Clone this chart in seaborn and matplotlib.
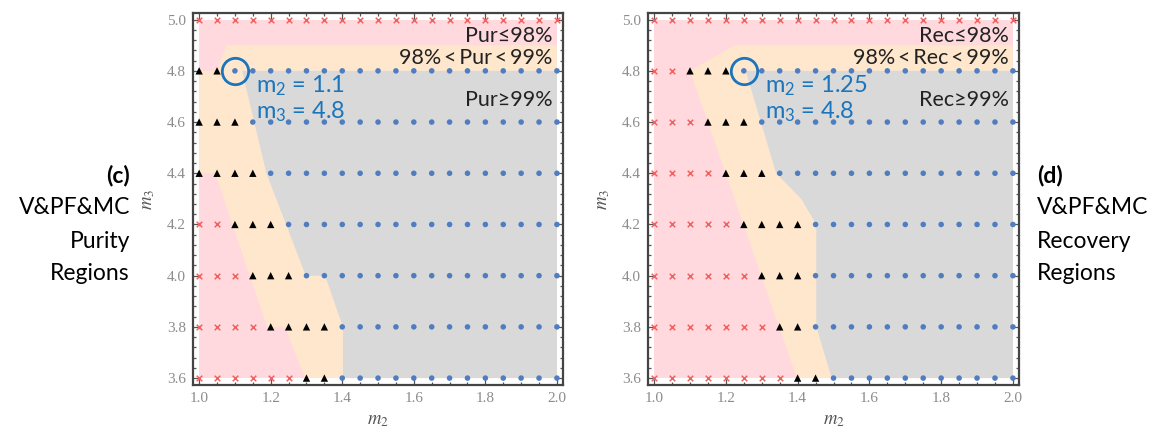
import numpy as np
import pandas as pd
import matplotlib
matplotlib.use("Agg")
import matplotlib.pyplot as plt
import seaborn as sns
from matplotlib.ticker import MultipleLocator, FormatStrFormatter

# ---- grid of operating points -------------------------------------------
M2 = [1.0, 1.05, 1.1, 1.15, 1.2, 1.25, 1.3, 1.35, 1.4, 1.45, 1.5,
      1.55, 1.6, 1.65, 1.7, 1.75, 1.8, 1.85, 1.9, 1.95, 2.0]
M3 = [5.0, 4.8, 4.6, 4.4, 4.2, 4.0, 3.8, 3.6]

# per m3 row: number of points (from m2 = 1.0) below 98 %, then between 98 and 99 %
PUR_N_LOW = [21, 0, 0, 0, 2, 3, 4, 6]
PUR_N_MID = [0, 2, 3, 4, 3, 3, 4, 2]
REC_N_LOW = [21, 2, 3, 4, 5, 6, 7, 8]
REC_N_MID = [0, 3, 3, 3, 4, 3, 2, 2]

# selected operating points
PUR_BEST = (1.1, 4.8)
REC_BEST = (1.25, 4.8)

# shaded region outlines (m2, m3)
PUR_MID_REGION = [(1.0, 4.8), (1.05, 4.8), (1.077, 4.9), (2.0, 4.9), (2.0, 3.6),
                  (1.296, 3.6), (1.24, 3.8), (1.19, 3.8), (1.045, 4.4), (1.0, 4.4)]
PUR_HIGH_REGION = [(1.12, 4.8), (2.0, 4.8), (2.0, 3.6), (1.402, 3.6), (1.402, 3.8),
                   (1.352, 4.0), (1.298, 4.0), (1.188, 4.4)]
REC_MID_REGION = [(1.10, 4.8), (1.225, 4.9), (2.0, 4.9), (2.0, 3.6), (1.398, 3.6)]
REC_HIGH_REGION = [(1.255, 4.8), (2.0, 4.8), (2.0, 3.6), (1.495, 3.6), (1.452, 3.8),
                   (1.452, 4.2), (1.41, 4.3), (1.34, 4.4)]

PINK = "#FFD9DD"
PEACH = "#FFE7CD"
GREY = "#D9D9D9"
RED = "#F06262"
DOT_BLUE = "#4F7DBF"
NOTE_BLUE = "#1B75BC"
THIN = "\u2009"

sns.set_style("white")
plt.rcParams["font.family"] = ["Lato", "DejaVu Sans"]
plt.rcParams["mathtext.fontset"] = "stix"
plt.rcParams["mathtext.default"] = "regular"


def grid_frame(n_low, n_mid):
    rows = []
    for m3, nl, nm in zip(M3, n_low, n_mid):
        for i, m2 in enumerate(M2):
            cls = "low" if i < nl else ("mid" if i < nl + nm else "high")
            rows.append((m2, m3, cls))
    return pd.DataFrame(rows, columns=["m2", "m3", "cls"])


def draw_panel(ax, df, mid_region, high_region, best, name):
    x0, x1 = min(M2), max(M2)
    y0, y1 = min(M3), max(M3)
    ax.fill_between([x0, x1], y0, y1, color=PINK, lw=0, zorder=0)
    ax.fill(*zip(*mid_region), color=PEACH, lw=0, zorder=1)
    ax.fill(*zip(*high_region), color=GREY, lw=0, zorder=1)

    sns.scatterplot(data=df[df.cls == "low"], x="m2", y="m3", marker="x",
                    color=RED, s=16, linewidth=1.1, ax=ax, legend=False, zorder=3)
    sns.scatterplot(data=df[df.cls == "mid"], x="m2", y="m3", marker="^",
                    color="black", s=28, edgecolor="none", ax=ax, legend=False, zorder=3)
    sns.scatterplot(data=df[df.cls == "high"], x="m2", y="m3", marker="o",
                    color=DOT_BLUE, s=16, edgecolor="none", ax=ax, legend=False, zorder=3)

    ax.plot(best[0], best[1], marker="o", ms=19, mfc="none", mec=NOTE_BLUE,
            mew=2.0, zorder=4)
    ax.text(best[0] + 0.058, best[1] - 0.058, f"m$_2$ = {best[0]:g}",
            color=NOTE_BLUE, fontsize=17, va="center", ha="left", zorder=5)
    ax.text(best[0] + 0.058, best[1] - 0.158, f"m$_3$ = {best[1]:g}",
            color=NOTE_BLUE, fontsize=17, va="center", ha="left", zorder=5)

    ax.text(1.988, 4.936, f"{name}≤98%", fontsize=15.5, ha="right", va="center",
            color="#222222", zorder=5)
    ax.text(1.988, 4.850, f"98%{THIN}<{THIN}{name}{THIN}<{THIN}99%", fontsize=15.5,
            ha="right", va="center", color="#222222", zorder=5)
    ax.text(1.988, 4.688, f"{name}≥99%", fontsize=15.5, ha="right", va="center",
            color="#222222", zorder=5)

    ax.set_xlim(0.983, 2.017)
    ax.set_ylim(3.573, 5.026)
    ax.xaxis.set_major_locator(MultipleLocator(0.2))
    ax.xaxis.set_minor_locator(MultipleLocator(0.05))
    ax.yaxis.set_major_locator(MultipleLocator(0.2))
    ax.yaxis.set_minor_locator(MultipleLocator(0.04))
    ax.xaxis.set_major_formatter(FormatStrFormatter("%.1f"))
    ax.yaxis.set_major_formatter(FormatStrFormatter("%.1f"))
    ax.tick_params(which="both", direction="in", top=True, right=True,
                   bottom=True, left=True, color="#555555", width=0.9)
    ax.tick_params(which="major", length=5, labelsize=11, labelcolor="#8C8C8C", pad=5)
    ax.tick_params(which="minor", length=2.5)
    for lab in ax.get_xticklabels() + ax.get_yticklabels():
        lab.set_fontfamily("Liberation Serif")
    for sp in ax.spines.values():
        sp.set_color("#444444")
        sp.set_linewidth(1.6)
    ax.set_xlabel(r"$\mathit{m_2}$", fontsize=13.5, color="#555555", labelpad=5)
    ax.set_ylabel(r"$\mathit{m_3}$", fontsize=13.5, color="#555555", labelpad=7)


fig = plt.figure(figsize=(11.63, 4.32), dpi=100)
ax_pur = fig.add_axes([0.1660, 0.1088, 0.3181, 0.8611])
ax_rec = fig.add_axes([0.5572, 0.1088, 0.3190, 0.8611])

draw_panel(ax_pur, grid_frame(PUR_N_LOW, PUR_N_MID), PUR_MID_REGION,
           PUR_HIGH_REGION, PUR_BEST, "Pur")
draw_panel(ax_rec, grid_frame(REC_N_LOW, REC_N_MID), REC_MID_REGION,
           REC_HIGH_REGION, REC_BEST, "Rec")

side_kw = dict(fontsize=16.5, color="black", va="center")
left_lines = [("(c)", "bold"), ("V&PF&MC", "normal"), ("Purity", "normal"),
              ("Regions", "normal")]
right_lines = [("(d)", "bold"), ("V&PF&MC", "normal"), ("Recovery", "normal"),
               ("Regions", "normal")]
for k, (txt, wt) in enumerate(left_lines):
    fig.text(130 / 1163, 1 - (175 + 33 * k) / 432, txt, ha="right",
             fontweight=wt, **side_kw)
for k, (txt, wt) in enumerate(right_lines):
    fig.text(1037 / 1163, 1 - (175 + 33 * k) / 432, txt, ha="left",
             fontweight=wt, **side_kw)

fig.savefig("out.png", dpi=100)
